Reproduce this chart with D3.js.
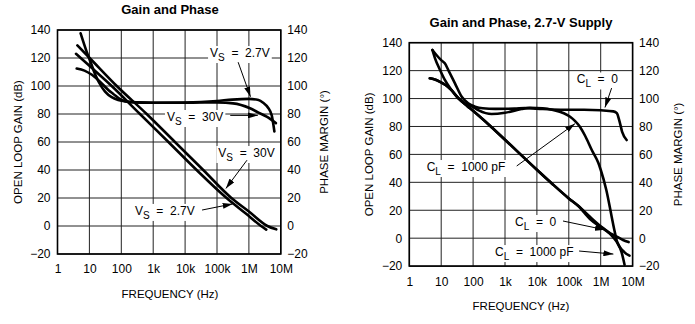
<!DOCTYPE html>
<html><head><meta charset="utf-8">
<script src="https://cdn.jsdelivr.net/npm/d3@7"></script>
<style>
body{margin:0;background:#fff;}
svg{display:block;font-family:"Liberation Sans",Arial,Helvetica,sans-serif;}
</style></head><body>
<svg id="c" width="695" height="324"></svg>
<script>
// ---------- shared axis data ----------
const freqTicks = [1, 10, 100, 1e3, 1e4, 1e5, 1e6, 1e7];
const freqLabels = ["1", "10", "100", "1k", "10k", "100k", "1M", "10M"];
const gainTicks = [-20, 0, 20, 40, 60, 80, 100, 120, 140];
const phaseTicks = [-20, 0, 20, 40, 60, 80, 100, 120, 140];

// ---------- left chart: Gain and Phase ----------
const leftGain30V = [[4.2,129],[10,120.2],[72,100],[625,80],[4800,60],[37000,40],[283000,20],[1e6,10.3],[3.8e6,0],[7.2e6,-2.4]];
const leftGain2p7V = [[3.8,123],[10,114.4],[50,100],[385,80],[3000,60],[23000,40],[200000,20],[800000,8.9],[2.4e6,0],[3.5e6,-2.6]];
const leftPhase2p7V = [[5.3,137.6],[8.2,124.5],[11.8,115],[15,108.5],[20,102.5],[31,96],[50,92],[80,90],[150,88.8],[300,88.3],[1e3,88],[1e4,88.2],[1e5,89.3],[3e5,90.3],[1e6,90.8],[2e6,90],[2.8e6,88],[4e6,84.5],[5.2e6,79],[5.8e6,73],[6.3e6,67.5]];
const leftPhase30V = [[4,112.5],[7,111],[12,108],[24,102],[40,97],[55,94.5],[100,90],[200,88.5],[1e3,88],[1e4,88],[2.9e4,88.3],[1e5,88.2],[3.2e5,87.6],[1.08e6,84.1],[2e6,81],[3.6e6,78.1],[7e6,73.5]];

// ---------- right chart: Gain and Phase, 2.7-V Supply ----------
const rightGainCL0 = [[4.4,114.5],[6,113.8],[9.2,112],[14,109.5],[21,106],[34,100.5],[55,96],[80,93],[145,88],[380,79.5],[1e3,70.5],[1e4,49],[3e4,39],[1e5,28.5],[2e5,23],[4.6e5,13.7],[1e6,8],[2e6,3.5],[3.2e6,1.1],[5e6,-1.3],[7.5e6,-2.8]];
const rightGainCL1000 = [[4.4,114.5],[6,113.8],[9.2,112],[14,109.5],[21,106],[34,100.5],[55,96],[80,93],[145,88],[380,79.5],[1e3,70.5],[1e4,49],[3e4,39],[1e5,28.5],[2e5,23],[4.6e5,15.3],[1e6,8.5],[1.5e6,5.5],[2.5e6,0.5],[3.4e6,-3.7],[4.5e6,-10],[5.6e6,-19]];
const rightPhaseCL0 = [[5.3,134.8],[7.2,131],[10,127.5],[13,125.2],[16.7,120.4],[27,110.9],[44,101.3],[70,96.6],[115,94.2],[200,93],[500,92.6],[2e3,92.8],[4.2e3,93.2],[1e4,92.8],[3e4,92.2],[1e5,92],[3e5,92],[1e6,91.6],[2.5e6,90.8],[3.2e6,89.5],[3.8e6,84.6],[4.7e6,76.2],[6.5e6,70.3]];
const rightPhaseCL1000 = [[5.3,134.8],[6.4,128.8],[9.2,120.4],[13,113.3],[21,106.1],[34,100.2],[56,96.6],[90,94.5],[150,91.5],[380,88.9],[1e3,89.8],[3.3e3,92.5],[6e3,93.3],[1.5e4,93],[3.2e4,91.8],[7e4,89.5],[1.1e5,87],[1.55e5,84],[2.2e5,80],[3.3e5,73],[5.3e5,63],[8.4e5,54],[1e6,49],[1.5e6,34.5],[2.2e6,15.6],[2.7e6,5.5],[3.2e6,-2],[4e6,-6.5],[5.5e6,-10],[7.5e6,-12.2],[8e6,-12.5]];

// annotations: [label freq, label value], [arrow from], [arrow to]  (data coords)
const leftNotes = [
  {main:"V", sub:"S", rest:"  =  2.7V", at:[60600,120.7], from:[4.6e5,117], to:[1.12e6,92.3]},
  {main:"V", sub:"S", rest:"  =  30V", at:[2700,75], from:[2.6e5,79], to:[1.9e6,79]},
  {main:"V", sub:"S", rest:"  =  30V", at:[110000,49.3], from:[8.7e5,47], to:[1.9e5,26.8]},
  {main:"V", sub:"S", rest:"  =  2.7V", at:[269,7.9], from:[3.4e4,11.4], to:[3.1e5,15.8]}
];
const rightNotes = [
  {main:"C", sub:"L", rest:"  =  0", at:[177000,110.8], from:[2.2e6,107.5], to:[1.36e6,93.6]},
  {main:"C", sub:"L", rest:"  =  1000 pF", at:[3.5,48.1], from:[2330,51.7], to:[1.56e5,82]},
  {main:"C", sub:"L", rest:"  =  0", at:[2060,8.7], from:[65800,12.3], to:[1.36e6,6]},
  {main:"C", sub:"L", rest:"  =  1000 pF", at:[486,-12.8], from:[2.1e5,-9.2], to:[2.5e6,-11.4]}
];

const panels = [
  {title:"Gain and Phase", titleX:170, titleY:14, x0:57.5, x1:280.8, yT:30, yB:254,
   xLabY:273, xTitleX:170, xTitleY:298, yTitleLX:22, yTitleRX:328,
   series:[leftGain30V, leftGain2p7V, leftPhase2p7V, leftPhase30V], notes:leftNotes},
  {title:"Gain and Phase, 2.7-V Supply", titleX:521, titleY:27, x0:409.3, x1:632.6, yT:42.7, yB:266.1,
   xLabY:286, xTitleX:521, xTitleY:310, yTitleLX:373, yTitleRX:682,
   series:[rightGainCL0, rightGainCL1000, rightPhaseCL0, rightPhaseCL1000], notes:rightNotes}
];

const svg = d3.select("#c");
svg.append("defs").append("marker")
  .attr("id","ah").attr("viewBox","0 0 10 6").attr("refX",10).attr("refY",3)
  .attr("markerWidth",10).attr("markerHeight",6).attr("markerUnits","userSpaceOnUse")
  .attr("orient","auto")
  .append("path").attr("d","M0,0 L10,3 L0,6 Z").attr("fill","#000");

panels.forEach(p => {
  const g = svg.append("g");
  const x = d3.scaleLog().domain([1, 1e7]).range([p.x0, p.x1]);
  const y = d3.scaleLinear().domain([-20, 140]).range([p.yB, p.yT]);

  // grid
  g.append("g").selectAll("line.v").data(freqTicks).join("line")
    .attr("x1", d => x(d)).attr("x2", d => x(d)).attr("y1", p.yT).attr("y2", p.yB)
    .attr("stroke", "#222").attr("stroke-width", 1);
  g.append("g").selectAll("line.h").data(gainTicks).join("line")
    .attr("x1", p.x0).attr("x2", p.x1).attr("y1", d => y(d)).attr("y2", d => y(d))
    .attr("stroke", "#222").attr("stroke-width", 1);

  // axes labels
  const ax = d3.axisBottom(x).tickValues(freqTicks).tickFormat((d,i) => freqLabels[i]).tickSize(0).tickPadding(0);
  const axG = g.append("g").attr("transform", `translate(0,${p.xLabY})`).call(ax);
  axG.select(".domain").remove();
  axG.selectAll("text").attr("dy", null).attr("y", 0).attr("font-size", 12).attr("font-family", null).attr("fill","#000");

  const ayL = d3.axisLeft(y).tickValues(gainTicks).tickSize(0).tickPadding(7);
  const ayLG = g.append("g").attr("transform", `translate(${p.x0},0)`).call(ayL);
  ayLG.select(".domain").remove();
  ayLG.selectAll("text").attr("font-size", 12).attr("font-family", null).attr("fill","#000");

  const ayR = d3.axisRight(y).tickValues(phaseTicks).tickSize(0).tickPadding(6.5);
  const ayRG = g.append("g").attr("transform", `translate(${p.x1},0)`).call(ayR);
  ayRG.select(".domain").remove();
  ayRG.selectAll("text").attr("font-size", 12).attr("font-family", null).attr("fill","#000");

  // titles
  g.append("text").attr("x", p.titleX).attr("y", p.titleY).attr("text-anchor","middle")
    .attr("font-size", 13).attr("font-weight","bold").text(p.title);
  g.append("text").attr("x", p.xTitleX).attr("y", p.xTitleY).attr("text-anchor","middle")
    .attr("font-size", 11.5).text("FREQUENCY (Hz)");
  const yc = (p.yT + p.yB) / 2;
  g.append("text").attr("transform", `translate(${p.yTitleLX},${yc}) rotate(-90)`).attr("text-anchor","middle")
    .attr("font-size", 11.5).text("OPEN LOOP GAIN (dB)");
  g.append("text").attr("transform", `translate(${p.yTitleRX},${yc}) rotate(-90)`).attr("text-anchor","middle")
    .attr("font-size", 11.5).text("PHASE MARGIN (°)");

  // curves
  const line = d3.line().x(d => x(d[0])).y(d => y(d[1])).curve(d3.curveMonotoneX);
  g.append("g").selectAll("path").data(p.series).join("path")
    .attr("d", line).attr("fill","none").attr("stroke","#000").attr("stroke-width", 2.6)
    .attr("stroke-linecap","round").attr("stroke-linejoin","round");

  // annotations
  p.notes.forEach(n => {
    const ng = g.append("g");
    const bg = ng.append("rect").attr("fill","#fff");
    const t = ng.append("text").attr("x", x(n.at[0])).attr("y", y(n.at[1]))
      .attr("font-size", 12).style("white-space","pre");
    t.append("tspan").text(n.main);
    t.append("tspan").attr("font-size", 10).attr("dy", 4).text(n.sub);
    t.append("tspan").attr("dy", -4).text(n.rest);
    const b = t.node().getBBox();
    bg.attr("x", b.x - 2).attr("y", b.y).attr("width", b.width + 4).attr("height", b.height);
    ng.append("line").attr("x1", x(n.from[0])).attr("y1", y(n.from[1]))
      .attr("x2", x(n.to[0])).attr("y2", y(n.to[1]))
      .attr("stroke","#000").attr("stroke-width", 1).attr("marker-end","url(#ah)");
  });

  // frame
  g.append("rect").attr("x", p.x0).attr("y", p.yT).attr("width", p.x1 - p.x0).attr("height", p.yB - p.yT)
    .attr("fill","none").attr("stroke","#000").attr("stroke-width", 1.6);
});
</script>
</body></html>
